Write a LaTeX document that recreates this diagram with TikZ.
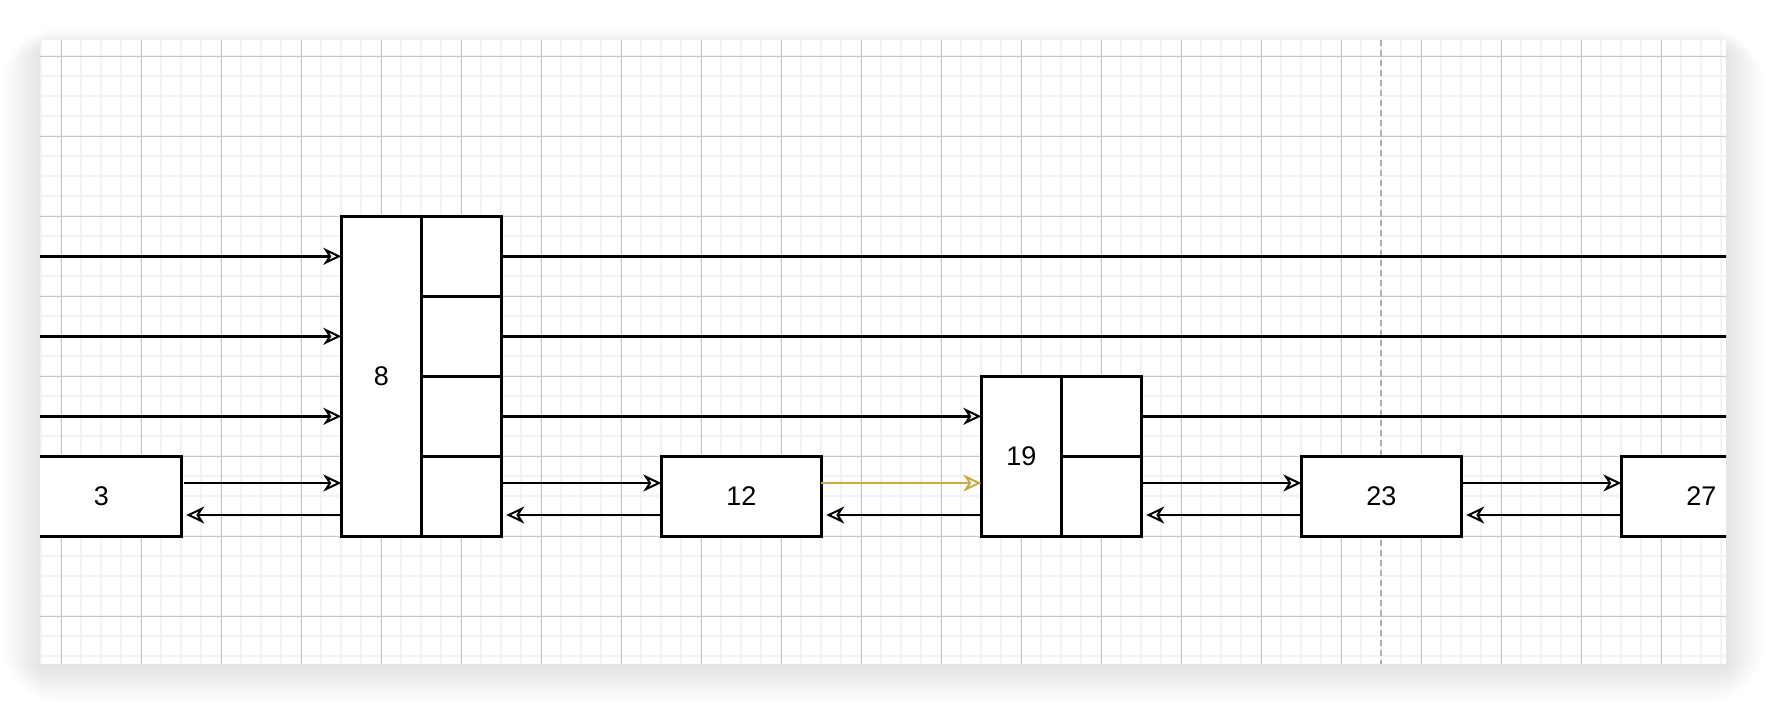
\documentclass[tikz,border=0pt]{standalone}
\usepackage{fontspec}
\setmainfont{Liberation Sans}
\usetikzlibrary{arrows.meta,calc}
\definecolor{minorgrid}{RGB}{243,243,243}
\definecolor{majorgrid}{RGB}{200,200,200}
\definecolor{pagebreak}{RGB}{175,175,175}
\definecolor{gold}{RGB}{205,170,65}
\begin{document}
\begin{tikzpicture}[x=0.5pt,y=-0.5pt,
  box/.style={draw=black, fill=white, line width=1.4pt, inner sep=0pt, outer sep=0pt,
    font=\fontsize{13.5}{16}\selectfont},
  cellbox/.style={box, minimum width=40pt, minimum height=40pt},
  tallbox/.style={box, minimum width=40pt, minimum height=160pt},
  midbox/.style={box, minimum width=40pt, minimum height=80pt},
  widebox/.style={box, minimum width=80pt, minimum height=40pt},
  conn/.style={line width=1.3pt, draw=black},
  arr/.style={conn, -{Stealth[open, length=9pt, width=8.5pt, inset=2.8pt, line width=1pt]}},
  backarr/.style={arr, shorten >=2.5pt},
  minorline/.style={draw=minorgrid, line width=0.9pt},
  majorline/.style={draw=majorgrid, line width=0.5pt},
  breakline/.style={draw=pagebreak, line width=1pt, dash pattern=on 3pt off 2pt}]
\useasboundingbox (0,0) rectangle (1766,704);
\fill[white] (0,0) rectangle (1766,704);
% soft shadow
\foreach \i in {1,...,26}
  \fill[black, opacity=0.0042, rounded corners=1.2*\i] (40-1.5*\i,40-0.9*\i+10) rectangle (1726+1.5*\i,664+1.4*\i+3);
\fill[white] (40,40) rectangle (1726,664);
\begin{scope}
\clip (40,40) rectangle (1726,664);
% grid
\foreach \x in {41.3,61.3,...,1730} \draw[minorline] (\x,40) -- (\x,664);
\foreach \y in {36.3,56.3,...,670} \draw[minorline] (40,\y) -- (1726,\y);
\foreach \x in {61.3,141.3,...,1730} \draw[majorline] (\x,40) -- (\x,664);
\foreach \y in {56.3,136.3,...,670} \draw[majorline] (40,\y) -- (1726,\y);
\draw[breakline] (1381.3,40) -- (1381.3,664);
% nodes
\node[widebox] (n3) at (101.3,496.3) {3};
\node[tallbox] (n8) at (381.3,376.3) {8};
\node[cellbox] (c81) at (461.3,256.3) {};
\node[cellbox] (c82) at (461.3,336.3) {};
\node[cellbox] (c83) at (461.3,416.3) {};
\node[cellbox] (c84) at (461.3,496.3) {};
\node[widebox] (n12) at (741.3,496.3) {12};
\node[midbox] (n19) at (1021.3,456.3) {19};
\node[cellbox] (c191) at (1101.3,416.3) {};
\node[cellbox] (c192) at (1101.3,496.3) {};
\node[widebox] (n23) at (1381.3,496.3) {23};
\node[widebox] (n27) at (1701.3,496.3) {27};
% free ends and rows
\coordinate (L1) at (0,256.3);
\coordinate (L2) at (0,336.3);
\coordinate (L3) at (0,416.3);
\coordinate (R1) at (1766,256.3);
\coordinate (R2) at (1766,336.3);
\coordinate (R3) at (1766,416.3);
\coordinate (fw) at (0,483);
\coordinate (bw) at (0,515);
% connectors
\draw[arr] (L1) -- (L1 -| n8.west);
\draw[arr] (L2) -- (L2 -| n8.west);
\draw[arr] (L3) -- (L3 -| n8.west);
\draw[conn] (c81.east) -- (R1);
\draw[conn] (c82.east) -- (R2);
\draw[arr] (c83.east) -- (c83.east -| n19.west);
\draw[conn] (c191.east) -- (R3);
\draw[arr, shorten <=1.5pt] (n3.east |- fw) -- (n8.west |- fw);
\draw[backarr] (n8.west |- bw) -- (n3.east |- bw);
\draw[arr] (c84.east |- fw) -- (n12.west |- fw);
\draw[backarr] (n12.west |- bw) -- (c84.east |- bw);
\draw[arr, draw=gold] (n12.east |- fw) -- (n19.west |- fw);
\draw[backarr] (n19.west |- bw) -- (n12.east |- bw);
\draw[arr] (c192.east |- fw) -- (n23.west |- fw);
\draw[backarr] (n23.west |- bw) -- (c192.east |- bw);
\draw[arr] (n23.east |- fw) -- (n27.west |- fw);
\draw[backarr] (n27.west |- bw) -- (n23.east |- bw);
\end{scope}
\end{tikzpicture}
\end{document}
